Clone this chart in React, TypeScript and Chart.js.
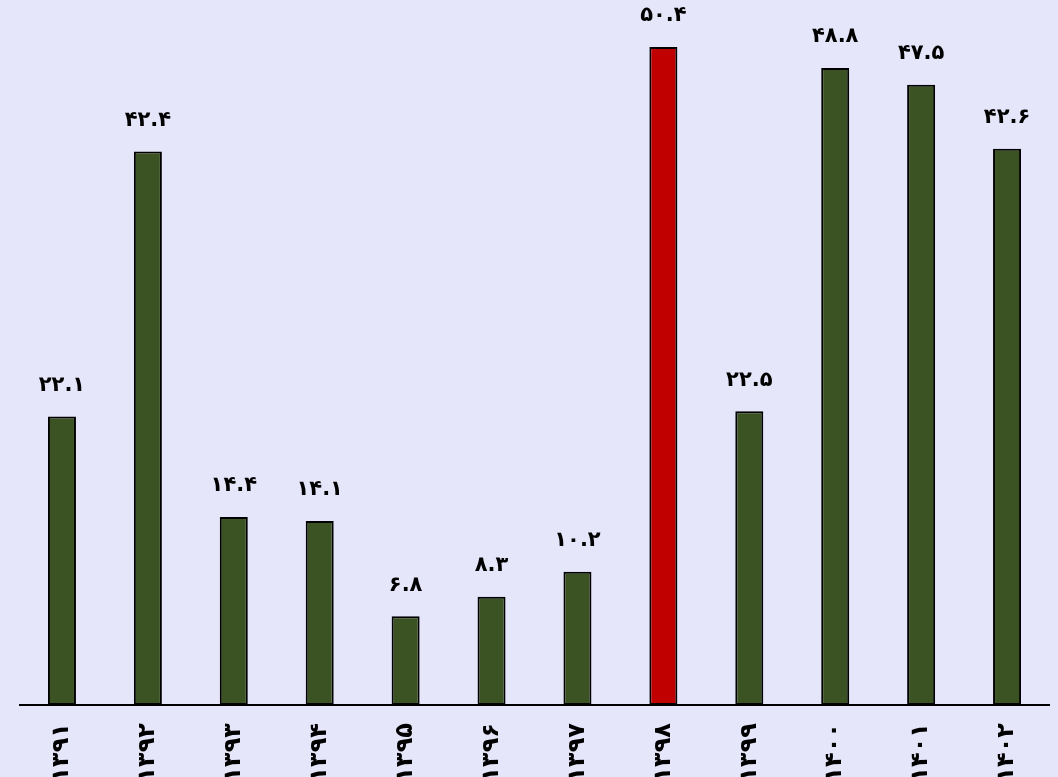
import React, { useEffect, useRef } from "react";
import { Chart, registerables } from "chart.js";

Chart.register(...registerables);

const categories = ["۱۳۹۱", "۱۳۹۲", "۱۳۹۳", "۱۳۹۴", "۱۳۹۵", "۱۳۹۶", "۱۳۹۷", "۱۳۹۸", "۱۳۹۹", "۱۴۰۰", "۱۴۰۱", "۱۴۰۲"];
const values = [22.1, 42.4, 14.4, 14.1, 6.8, 8.3, 10.2, 50.4, 22.5, 48.8, 47.5, 42.6];
const highlightIndex = 7;

const GREEN = "#3B5323";
const RED = "#C00000";
const BG = "#E6E6FA";
const FONT = "'DejaVu Sans', 'Noto Sans', sans-serif";

const toPersian = (s: string) =>
  s.replace(/[0-9]/g, (d) => "۰۱۲۳۴۵۶۷۸۹"[Number(d)]);

const labelPlugin = {
  id: "valueLabels",
  afterDatasetsDraw(chart: any) {
    const ctx = chart.ctx;
    const meta = chart.getDatasetMeta(0);
    ctx.save();
    ctx.font = `bold 21px ${FONT}`;
    ctx.fillStyle = "#000";
    ctx.textAlign = "center";
    ctx.textBaseline = "middle";
    meta.data.forEach((el: any, i: number) => {
      const txt = toPersian(values[i].toFixed(1));
      ctx.fillText(txt, el.x, el.y - 31);
    });
    ctx.restore();
  },
};

const axisLinePlugin = {
  id: "axisLine",
  afterDraw(chart: any) {
    const ctx = chart.ctx;
    const y = chart.chartArea.bottom;
    ctx.save();
    ctx.strokeStyle = "#000";
    ctx.lineWidth = 2;
    ctx.beginPath();
    ctx.moveTo(chart.chartArea.left, y);
    ctx.lineTo(chart.chartArea.right, y);
    ctx.stroke();
    ctx.restore();
  },
};

export default function App() {
  const ref = useRef<HTMLCanvasElement | null>(null);

  useEffect(() => {
    document.body.style.margin = "0";
    document.body.style.background = BG;
    if (!ref.current) return;
    const chart = new Chart(ref.current, {
      type: "bar",
      data: {
        labels: categories,
        datasets: [
          {
            data: values,
            backgroundColor: values.map((_, i) => (i === highlightIndex ? RED : GREEN)),
            borderColor: "#000",
            borderWidth: 2,
            borderSkipped: false,
            barPercentage: 0.326,
            categoryPercentage: 1,
          },
        ],
      },
      options: {
        animation: false,
        responsive: false,
        maintainAspectRatio: false,
        layout: { padding: { left: 19, right: 8, top: 0, bottom: 0 } },
        plugins: {
          legend: { display: false },
          tooltip: { enabled: false },
        },
        scales: {
          x: {
            grid: { display: false },
            border: { display: false },
            ticks: {
              color: "#000",
              font: { family: FONT, size: 24, weight: "bold" },
              minRotation: 90,
              maxRotation: 90,
              padding: 10,
              autoSkip: false,
            },
            afterFit: (scale: any) => {
              scale.height = 72;
            },
          },
          y: {
            display: false,
            min: 0,
            max: 54,
          },
        },
      },
      plugins: [labelPlugin, axisLinePlugin],
    });
    return () => chart.destroy();
  }, []);

  return (
    <div style={{ position: "absolute", left: 0, top: 0, width: 1058, height: 777, background: BG, overflow: "hidden" }}>
      <canvas ref={ref} width={1058} height={777} style={{ width: 1058, height: 777, display: "block" }} />
    </div>
  );
}
